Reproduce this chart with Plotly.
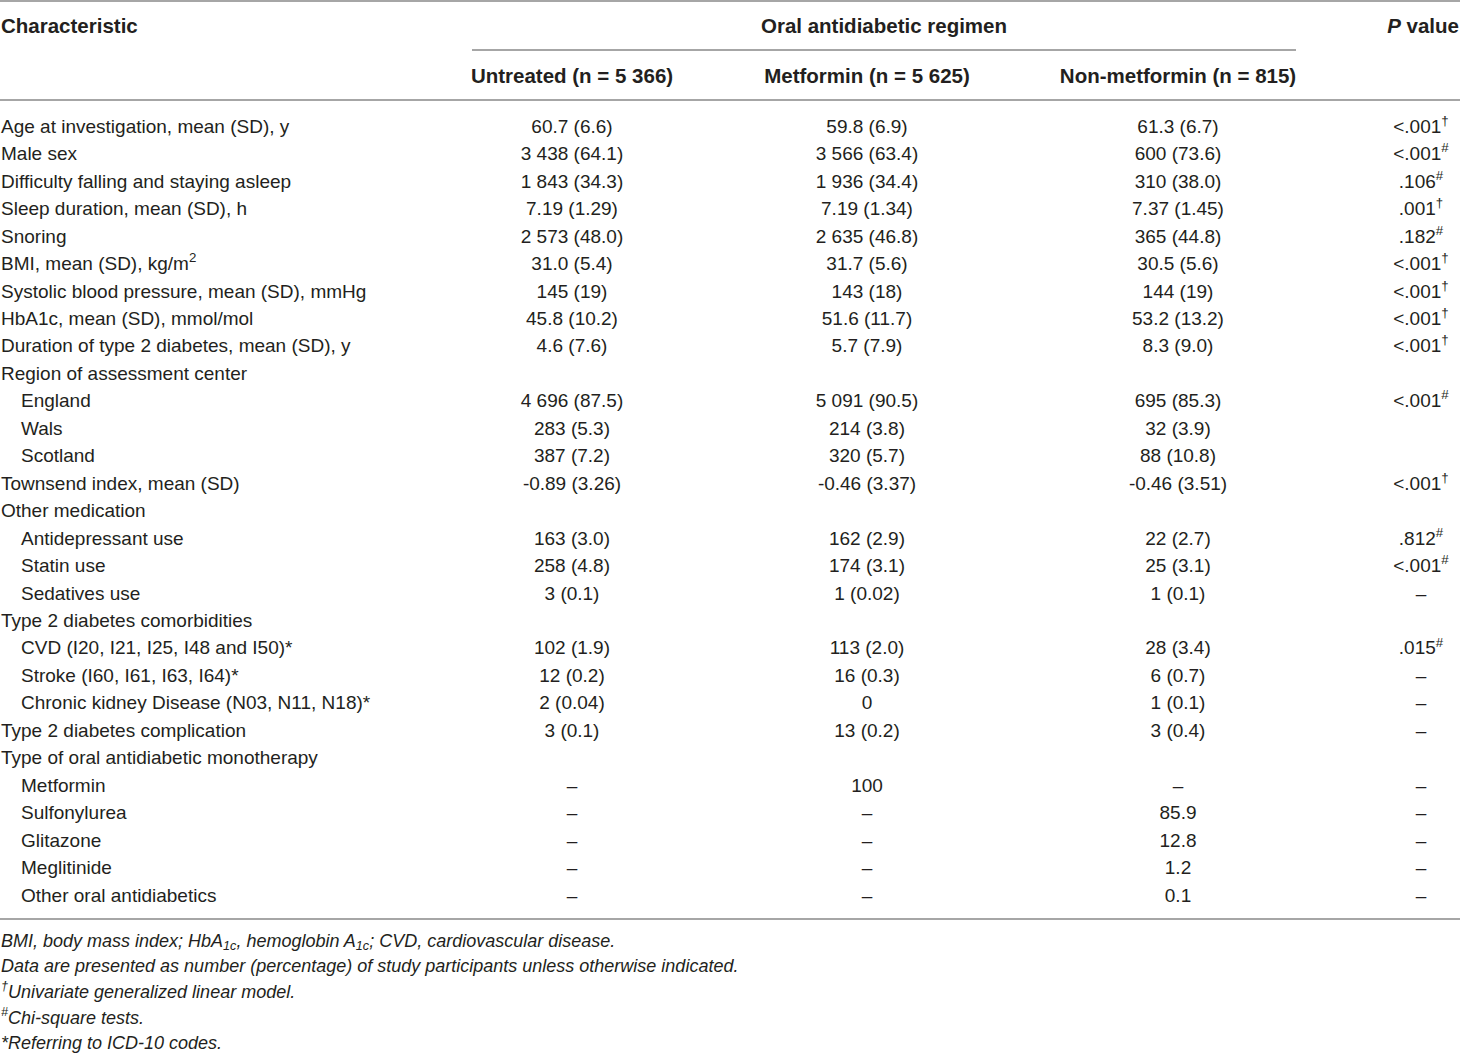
import plotly.graph_objects as go

# table content
characteristics = [
    "Age at investigation, mean (SD), y",
    "Male sex",
    "Difficulty falling and staying asleep",
    "Sleep duration, mean (SD), h",
    "Snoring",
    "BMI, mean (SD), kg/m<sup>2</sup>",
    "Systolic blood pressure, mean (SD), mmHg",
    "HbA1c, mean (SD), mmol/mol",
    "Duration of type 2 diabetes, mean (SD), y",
    "Region of assessment center",
    "England",
    "Wals",
    "Scotland",
    "Townsend index, mean (SD)",
    "Other medication",
    "Antidepressant use",
    "Statin use",
    "Sedatives use",
    "Type 2 diabetes comorbidities",
    "CVD (I20, I21, I25, I48 and I50)*",
    "Stroke (I60, I61, I63, I64)*",
    "Chronic kidney Disease (N03, N11, N18)*",
    "Type 2 diabetes complication",
    "Type of oral antidiabetic monotherapy",
    "Metformin",
    "Sulfonylurea",
    "Glitazone",
    "Meglitinide",
    "Other oral antidiabetics",
]
sub_items = {"England", "Wals", "Scotland", "Antidepressant use", "Statin use",
             "Sedatives use", "CVD (I20, I21, I25, I48 and I50)*",
             "Stroke (I60, I61, I63, I64)*", "Chronic kidney Disease (N03, N11, N18)*",
             "Metformin", "Sulfonylurea", "Glitazone", "Meglitinide",
             "Other oral antidiabetics"}

untreated = [
    "60.7 (6.6)", "3 438 (64.1)", "1 843 (34.3)", "7.19 (1.29)", "2 573 (48.0)",
    "31.0 (5.4)", "145 (19)", "45.8 (10.2)", "4.6 (7.6)", "",
    "4 696 (87.5)", "283 (5.3)", "387 (7.2)", "-0.89 (3.26)", "",
    "163 (3.0)", "258 (4.8)", "3 (0.1)", "",
    "102 (1.9)", "12 (0.2)", "2 (0.04)", "3 (0.1)", "",
    "–", "–", "–", "–", "–",
]
metformin = [
    "59.8 (6.9)", "3 566 (63.4)", "1 936 (34.4)", "7.19 (1.34)", "2 635 (46.8)",
    "31.7 (5.6)", "143 (18)", "51.6 (11.7)", "5.7 (7.9)", "",
    "5 091 (90.5)", "214 (3.8)", "320 (5.7)", "-0.46 (3.37)", "",
    "162 (2.9)", "174 (3.1)", "1 (0.02)", "",
    "113 (2.0)", "16 (0.3)", "0", "13 (0.2)", "",
    "100", "–", "–", "–", "–",
]
non_metformin = [
    "61.3 (6.7)", "600 (73.6)", "310 (38.0)", "7.37 (1.45)", "365 (44.8)",
    "30.5 (5.6)", "144 (19)", "53.2 (13.2)", "8.3 (9.0)", "",
    "695 (85.3)", "32 (3.9)", "88 (10.8)", "-0.46 (3.51)", "",
    "22 (2.7)", "25 (3.1)", "1 (0.1)", "",
    "28 (3.4)", "6 (0.7)", "1 (0.1)", "3 (0.4)", "",
    "–", "85.9", "12.8", "1.2", "0.1",
]
p_values = [
    "<.001<sup>†</sup>", "<.001<sup>#</sup>", ".106<sup>#</sup>", ".001<sup>†</sup>",
    ".182<sup>#</sup>", "<.001<sup>†</sup>", "<.001<sup>†</sup>", "<.001<sup>†</sup>",
    "<.001<sup>†</sup>", "",
    "<.001<sup>#</sup>", "", "", "<.001<sup>†</sup>", "",
    ".812<sup>#</sup>", "<.001<sup>#</sup>", "–", "",
    ".015<sup>#</sup>", "–", "–", "–", "",
    "–", "–", "–", "–", "–",
]
group_headers = ["Untreated (n = 5 366)", "Metformin (n = 5 625)", "Non-metformin (n = 815)"]
footnotes = [
    "BMI, body mass index; HbA<sub>1c</sub>, hemoglobin A<sub>1c</sub>; CVD, cardiovascular disease.",
    "Data are presented as number (percentage) of study participants unless otherwise indicated.",
    "<sup>†</sup>Univariate generalized linear model.",
    "<sup>#</sup>Chi-square tests.",
    "*Referring to ICD-10 codes.",
]

# layout (pixel-like axis coordinates)
W, H = 1460, 1054
ROW0, ROW_STEP = 128, 27.46
col_x = [572, 867, 1178]
p_x = 1421
TXT = "#231f20"
RULE = "#a6a6a6"
FONT = "Liberation Sans, Arial, sans-serif"
body_font = dict(family=FONT, size=19, color=TXT)
hdr_font = dict(family=FONT, size=20.5, color=TXT)

rows_y = [ROW0 + i * ROW_STEP for i in range(len(characteristics))]

fig = go.Figure()


def add_text(x, y, text, pos, font):
    # skip empty cells
    keep = [(a, b, t) for a, b, t in zip(x, y, text) if t]
    fig.add_trace(go.Scatter(
        x=[k[0] for k in keep], y=[k[1] for k in keep], text=[k[2] for k in keep],
        mode="text", textposition=pos, textfont=font, cliponaxis=False,
        hoverinfo="skip"))


# first column: main rows flush left, sub rows indented
first_x = [21 if c in sub_items else 1 for c in characteristics]
add_text(first_x, rows_y, characteristics, "middle right", body_font)

for cx, vals in zip(col_x, [untreated, metformin, non_metformin]):
    add_text([cx] * len(vals), rows_y, vals, "middle center", body_font)
add_text([p_x] * len(p_values), rows_y, p_values, "middle center", body_font)

# header
add_text([1], [28], ["<b>Characteristic</b>"], "middle right", hdr_font)
add_text([884], [28], ["<b>Oral antidiabetic regimen</b>"], "middle center", hdr_font)
add_text([1459], [28], ["<b><i>P</i> value</b>"], "middle left", hdr_font)
add_text(col_x, [78] * 3, ["<b>%s</b>" % g for g in group_headers], "middle center", hdr_font)

# footnotes
add_text([1] * len(footnotes), [942 + j * 25.7 for j in range(len(footnotes))],
         ["<i>%s</i>" % f for f in footnotes], "middle right",
         dict(family=FONT, size=18, color=TXT))

# rules
for x0, x1, y in [(0, W, 1), (472, 1296, 50), (0, W, 100), (0, W, 919)]:
    fig.add_shape(type="line", x0=x0, x1=x1, y0=y, y1=y, xref="x", yref="y",
                  line=dict(color=RULE, width=2))

fig.update_layout(
    width=W, height=H,
    margin=dict(l=0, r=0, t=0, b=0),
    paper_bgcolor="white", plot_bgcolor="white",
    showlegend=False,
    xaxis=dict(range=[0, W], visible=False, fixedrange=True),
    yaxis=dict(range=[H, 0], visible=False, fixedrange=True),
)

fig.write_html("out.html", config={"displayModeBar": False},
               post_script="document.body.style.margin='0';")
